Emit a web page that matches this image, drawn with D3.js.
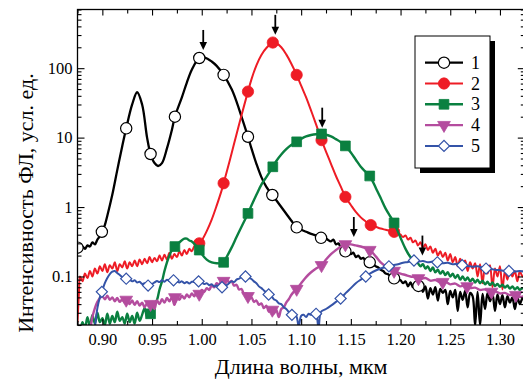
<!DOCTYPE html>
<html><head><meta charset="utf-8">
<script src="https://cdn.jsdelivr.net/npm/d3@7"></script>
<style>
body{margin:0;background:#fff}
svg{display:block}
</style>
</head><body>
<svg id="chart" width="523" height="382"></svg>
<script>
// Axis ticks
const xMajorTicks = [0.90, 0.95, 1.00, 1.05, 1.10, 1.15, 1.20, 1.25, 1.30];
const xMinorTicks = [0.875, 0.925, 0.975, 1.025, 1.075, 1.125, 1.175, 1.225, 1.275, 1.325];
const yMajorTicks = [0.1, 1, 10, 100];
const xTitle = "Длина волны, мкм";
const yTitle = "Интенсивность ФЛ, усл. ед.";
const seriesNames = ["1", "2", "3", "4", "5"];
const seriesColors = ["#000000", "#ee1c25", "#0a8040", "#b44c9e", "#3453a8"];
const FONT = "Liberation Serif";

// Spectrum 1: [wavelength, intensity]
const series1 = [
  [0.875,0.26],[0.8775,0.24],[0.880,0.27],[0.8825,0.25],[0.885,0.28],[0.8875,0.27],[0.890,0.31],
  [0.8925,0.29],[0.895,0.34],[0.8975,0.38],[0.8995,0.44],[0.9025,0.55],[0.905,0.75],[0.910,1.5],
  [0.915,3.4],[0.920,7.5],[0.924,13.6],[0.930,30],[0.935,45],[0.940,30],[0.945,10],[0.9485,5.8],
  [0.9525,4.3],[0.956,3.9],[0.960,4.3],[0.965,7],[0.970,13],[0.973,20],[0.980,38],[0.985,62],
  [0.990,95],[0.9975,140],[1.003,142],[1.010,125],[1.015,108],[1.022,80],[1.030,50],[1.035,33],
  [1.040,20],[1.0465,10.3],[1.050,7],[1.055,4.2],[1.060,2.7],[1.065,1.95],[1.071,1.49],[1.075,1.25],
  [1.080,1.0],[1.085,0.8],[1.090,0.64],[1.0955,0.51],[1.100,0.47],[1.105,0.44],[1.110,0.41],
  [1.115,0.39],[1.120,0.36],[1.125,0.35],[1.130,0.32],[1.1325,0.34],[1.135,0.29],[1.1375,0.30],
  [1.140,0.26],[1.1425,0.26],[1.1445,0.23],[1.1475,0.235],[1.150,0.21],[1.1525,0.22],[1.155,0.19],
  [1.1575,0.20],[1.160,0.18],[1.1625,0.185],[1.165,0.165],[1.169,0.16],[1.1725,0.15],[1.175,0.14],
  [1.1775,0.135],[1.180,0.125],[1.1825,0.12],[1.185,0.11],[1.1875,0.108],[1.190,0.10],
  [1.1935,0.094],[1.1975,0.09],[1.200,0.088],[1.2025,0.080],[1.205,0.085],[1.2075,0.072],
  [1.210,0.082],[1.2125,0.070],[1.215,0.078],[1.218,0.073],[1.220,0.074],[1.2225,0.060],
  [1.225,0.072],[1.2275,0.048],[1.230,0.068],[1.2325,0.055],[1.235,0.070],[1.2375,0.045],
  [1.240,0.066],[1.2425,0.058],[1.245,0.064],[1.2475,0.040],[1.250,0.062],[1.2525,0.050],
  [1.255,0.064],[1.2575,0.032],[1.260,0.060],[1.2625,0.046],[1.265,0.062],[1.2675,0.036],
  [1.270,0.058],[1.2725,0.052],[1.275,0.020],[1.2775,0.060],[1.280,0.020],[1.2825,0.056],
  [1.285,0.034],[1.2875,0.058],[1.290,0.044],[1.2925,0.056],[1.295,0.032],[1.2975,0.055],
  [1.300,0.040],[1.3025,0.054],[1.305,0.036],[1.3075,0.052],[1.310,0.042],[1.3125,0.050],
  [1.315,0.034],[1.3175,0.050],[1.320,0.040],[1.3225,0.048],[1.325,0.044]
];
const markers1 = [
  [0.875,0.26],[0.8995,0.44],[0.924,13.6],[0.9485,5.8],[0.973,20],[0.9975,140],[1.022,80],
  [1.0465,10.3],[1.071,1.49],[1.0955,0.51],[1.120,0.36],[1.1445,0.23],[1.169,0.16],
  [1.1935,0.094],[1.218,0.073]
];

// Spectrum 2
const series2 = [
  [0.875,0.022],[0.8765,0.06],[0.8775,0.10],[0.880,0.085],[0.8825,0.11],[0.885,0.095],[0.8875,0.12],
  [0.890,0.10],[0.8925,0.13],[0.895,0.11],[0.8975,0.14],[0.900,0.12],[0.9025,0.15],[0.905,0.115],
  [0.9075,0.145],[0.910,0.13],[0.9125,0.16],[0.915,0.12],[0.9175,0.15],[0.920,0.135],[0.9225,0.165],
  [0.925,0.13],[0.9275,0.16],[0.930,0.14],[0.9325,0.17],[0.935,0.14],[0.9375,0.175],[0.940,0.15],
  [0.9425,0.18],[0.945,0.155],[0.9475,0.19],[0.950,0.16],[0.9525,0.185],[0.955,0.165],[0.9575,0.20],
  [0.960,0.17],[0.9625,0.205],[0.965,0.175],[0.9675,0.22],[0.970,0.18],[0.9725,0.21],[0.975,0.19],
  [0.9775,0.23],[0.980,0.20],[0.9825,0.24],[0.985,0.21],[0.9875,0.25],[0.990,0.23],[0.9925,0.27],
  [0.995,0.26],[0.9975,0.30],[1.000,0.33],[1.005,0.45],[1.010,0.66],[1.015,1.05],[1.020,1.74],
  [1.022,2.2],[1.025,3.16],[1.030,5.9],[1.035,11.2],[1.040,21],[1.0465,46],[1.050,69],[1.055,110],
  [1.060,155],[1.065,195],[1.0715,234],[1.075,229],[1.080,200],[1.085,158],[1.090,117],[1.0955,80],
  [1.100,56],[1.105,38],[1.110,24.5],[1.115,15.5],[1.1205,9.2],[1.125,6.3],[1.130,4.2],[1.135,2.8],
  [1.140,1.95],[1.1445,1.4],[1.150,1.07],[1.155,0.85],[1.160,0.71],[1.165,0.62],[1.170,0.55],
  [1.175,0.52],[1.180,0.49],[1.185,0.47],[1.190,0.45],[1.1935,0.44],[1.1975,0.42],[1.200,0.40],
  [1.2025,0.37],[1.205,0.39],[1.2075,0.34],[1.210,0.36],[1.2125,0.31],[1.215,0.33],[1.2175,0.28],
  [1.220,0.31],[1.2225,0.26],[1.225,0.29],[1.2275,0.24],[1.230,0.27],[1.2325,0.22],[1.235,0.25],
  [1.2375,0.20],[1.240,0.23],[1.2425,0.19],[1.245,0.22],[1.2475,0.17],[1.250,0.21],[1.2525,0.16],
  [1.255,0.19],[1.2575,0.14],[1.260,0.18],[1.2625,0.15],[1.265,0.17],[1.2675,0.12],[1.270,0.16],
  [1.2725,0.13],[1.275,0.155],[1.2775,0.10],[1.280,0.15],[1.2825,0.08],[1.285,0.14],[1.2875,0.11],
  [1.290,0.145],[1.2925,0.07],[1.295,0.13],[1.2975,0.10],[1.300,0.14],[1.3025,0.065],[1.305,0.12],
  [1.3075,0.09],[1.310,0.13],[1.3125,0.10],[1.315,0.12],[1.3175,0.085],[1.320,0.12],[1.3225,0.10],
  [1.325,0.115]
];
const markers2 = [
  [0.9975,0.30],[1.022,2.2],[1.0465,46],[1.0715,234],[1.0955,80],[1.1205,9.2],[1.1445,1.4],
  [1.170,0.55],[1.1935,0.44]
];

// Spectrum 3
const series3 = [
  [0.8775,0.015],[0.880,0.022],[0.8825,0.018],[0.885,0.026],[0.8875,0.019],[0.890,0.028],
  [0.8925,0.021],[0.895,0.030],[0.8975,0.022],[0.900,0.025],[0.9025,0.020],[0.905,0.029],
  [0.9075,0.021],[0.910,0.027],[0.9125,0.022],[0.915,0.031],[0.9175,0.023],[0.920,0.026],
  [0.9225,0.021],[0.925,0.029],[0.9275,0.022],[0.930,0.027],[0.9325,0.021],[0.935,0.030],
  [0.9375,0.023],[0.940,0.028],[0.9425,0.035],[0.945,0.026],[0.9475,0.033],[0.9485,0.029],
  [0.950,0.034],[0.9525,0.040],[0.955,0.046],[0.9575,0.065],[0.960,0.085],[0.9625,0.12],
  [0.965,0.16],[0.9675,0.20],[0.970,0.24],[0.973,0.27],[0.9775,0.31],[0.9825,0.35],[0.985,0.35],
  [0.9875,0.33],[0.990,0.32],[0.995,0.27],[0.9975,0.24],[1.000,0.21],[1.005,0.175],[1.010,0.16],
  [1.015,0.155],[1.020,0.155],[1.022,0.16],[1.025,0.19],[1.030,0.26],[1.035,0.37],[1.040,0.52],
  [1.0465,0.81],[1.050,1.05],[1.055,1.5],[1.060,2.1],[1.065,2.7],[1.0715,3.8],[1.075,4.6],
  [1.080,5.7],[1.085,6.8],[1.090,7.8],[1.0955,8.7],[1.100,9.6],[1.105,10.4],[1.110,10.9],
  [1.115,11.2],[1.1205,11.3],[1.125,11.0],[1.130,10.4],[1.135,9.5],[1.140,8.6],[1.1445,7.6],
  [1.150,6.1],[1.155,4.8],[1.160,3.8],[1.165,3.2],[1.169,2.8],[1.175,1.9],[1.180,1.35],
  [1.185,0.95],[1.190,0.72],[1.1935,0.59],[1.200,0.36],[1.205,0.25],[1.210,0.19],[1.215,0.165],
  [1.2175,0.155],[1.220,0.14],[1.2225,0.15],[1.225,0.13],[1.2275,0.14],[1.230,0.12],[1.2325,0.135],
  [1.235,0.115],[1.2375,0.125],[1.240,0.11],[1.2425,0.12],[1.245,0.105],[1.2475,0.115],[1.250,0.10],
  [1.2525,0.11],[1.255,0.095],[1.2575,0.105],[1.260,0.09],[1.2625,0.10],[1.265,0.088],[1.2675,0.097],
  [1.270,0.085],[1.2725,0.093],[1.275,0.082],[1.2775,0.09],[1.280,0.08],[1.2825,0.087],[1.285,0.077],
  [1.2875,0.084],[1.290,0.075],[1.2925,0.082],[1.295,0.073],[1.2975,0.078],[1.300,0.071],
  [1.3025,0.076],[1.305,0.069],[1.3075,0.074],[1.310,0.067],[1.3125,0.072],[1.315,0.065],
  [1.3175,0.07],[1.320,0.064],[1.3225,0.068],[1.325,0.063]
];
const markers3 = [
  [0.9485,0.029],[0.973,0.27],[0.9975,0.24],[1.022,0.16],[1.0465,0.81],[1.0715,3.8],[1.0955,8.7],
  [1.1205,11.3],[1.1445,7.6],[1.169,2.8],[1.1935,0.59]
];

// Spectrum 4
const series4 = [
  [0.888,0.018],[0.890,0.026],[0.8925,0.035],[0.895,0.043],[0.8975,0.049],[0.900,0.052],
  [0.9025,0.047],[0.905,0.053],[0.9075,0.046],[0.910,0.050],[0.9125,0.044],[0.915,0.049],
  [0.9175,0.043],[0.920,0.047],[0.9225,0.042],[0.925,0.046],[0.9275,0.040],[0.930,0.045],
  [0.9325,0.039],[0.935,0.044],[0.9375,0.038],[0.940,0.042],[0.9425,0.036],[0.945,0.041],
  [0.9475,0.038],[0.950,0.043],[0.9525,0.034],[0.955,0.045],[0.9575,0.040],[0.960,0.047],
  [0.9625,0.042],[0.965,0.049],[0.9675,0.044],[0.970,0.050],[0.9725,0.039],[0.975,0.051],
  [0.9775,0.046],[0.980,0.053],[0.9825,0.048],[0.985,0.055],[0.9875,0.050],[0.990,0.057],
  [0.9925,0.052],[0.995,0.060],[0.9975,0.056],[1.000,0.064],[1.0025,0.060],[1.005,0.068],
  [1.0075,0.064],[1.010,0.074],[1.0125,0.070],[1.015,0.080],[1.0175,0.076],[1.020,0.088],
  [1.0225,0.084],[1.025,0.092],[1.0275,0.082],[1.030,0.086],[1.0325,0.074],[1.035,0.076],
  [1.0375,0.065],[1.040,0.066],[1.0425,0.056],[1.045,0.057],[1.0475,0.048],[1.050,0.050],
  [1.0525,0.043],[1.055,0.045],[1.0575,0.039],[1.060,0.041],[1.0625,0.035],[1.065,0.038],
  [1.0675,0.031],[1.070,0.035],[1.0725,0.029],[1.075,0.033],[1.0775,0.026],[1.080,0.034],
  [1.0825,0.036],[1.085,0.042],[1.0875,0.047],[1.090,0.054],[1.0925,0.060],[1.0955,0.066],
  [1.100,0.080],[1.105,0.098],[1.110,0.115],[1.115,0.13],[1.1205,0.145],[1.125,0.175],[1.130,0.21],
  [1.135,0.24],[1.140,0.27],[1.1445,0.29],[1.150,0.29],[1.155,0.28],[1.160,0.27],[1.165,0.255],
  [1.169,0.24],[1.175,0.195],[1.180,0.16],[1.185,0.14],[1.190,0.125],[1.1935,0.12],[1.200,0.11],
  [1.205,0.105],[1.210,0.10],[1.215,0.098],[1.220,0.092],[1.225,0.095],[1.230,0.087],[1.235,0.089],
  [1.240,0.082],[1.245,0.084],[1.250,0.077],[1.255,0.079],[1.260,0.072],[1.265,0.074],[1.270,0.068],
  [1.275,0.069],[1.280,0.064],[1.285,0.065],[1.290,0.060],[1.295,0.061],[1.300,0.057],[1.305,0.058],
  [1.310,0.054],[1.315,0.055],[1.320,0.051],[1.325,0.052]
];
const markers4 = [
  [0.924,0.046],[0.9485,0.040],[0.973,0.050],[0.9975,0.056],[1.022,0.086],[1.0465,0.052],
  [1.071,0.033],[1.0955,0.066],[1.1205,0.145],[1.1445,0.29],[1.169,0.24],[1.1935,0.12],
  [1.218,0.094],[1.2425,0.083],[1.267,0.072],[1.2915,0.060],[1.316,0.054]
];

// Spectrum 5
const series5 = [
  [0.8925,0.018],[0.895,0.035],[0.8975,0.05],[0.8995,0.06],[0.9025,0.08],[0.905,0.095],[0.9075,0.108],
  [0.910,0.117],[0.9125,0.12],[0.915,0.112],[0.9175,0.105],[0.920,0.098],[0.924,0.093],[0.9275,0.09],
  [0.930,0.085],[0.9325,0.088],[0.935,0.082],[0.9375,0.084],[0.940,0.078],[0.9425,0.08],[0.946,0.074],
  [0.950,0.078],[0.9525,0.082],[0.955,0.086],[0.9575,0.083],[0.960,0.088],[0.9625,0.084],[0.965,0.09],
  [0.9675,0.086],[0.9716,0.088],[0.975,0.085],[0.9775,0.082],[0.980,0.085],[0.9825,0.08],[0.985,0.083],
  [0.9875,0.079],[0.990,0.084],[0.9925,0.083],[0.9968,0.085],[1.000,0.082],[1.0025,0.078],[1.005,0.08],
  [1.0075,0.075],[1.010,0.077],[1.0125,0.072],[1.015,0.074],[1.0175,0.07],[1.0204,0.07],[1.025,0.075],
  [1.0275,0.08],[1.030,0.085],[1.0325,0.083],[1.035,0.09],[1.0375,0.093],[1.040,0.098],[1.044,0.10],
  [1.0475,0.095],[1.050,0.092],[1.0525,0.085],[1.055,0.08],[1.0575,0.072],[1.060,0.068],[1.0625,0.063],
  [1.0673,0.055],[1.070,0.052],[1.0725,0.047],[1.075,0.045],[1.0775,0.041],[1.080,0.04],[1.0825,0.036],
  [1.085,0.034],[1.0875,0.031],[1.0907,0.028],[1.095,0.027],[1.0975,0.019],[1.100,0.027],[1.1025,0.028],
  [1.105,0.026],[1.1075,0.029],[1.110,0.028],[1.1125,0.03],[1.115,0.029],[1.1175,0.018],[1.120,0.031],
  [1.125,0.034],[1.130,0.038],[1.135,0.043],[1.1397,0.048],[1.145,0.058],[1.150,0.068],[1.155,0.08],
  [1.160,0.09],[1.165,0.10],[1.170,0.112],[1.175,0.122],[1.180,0.13],[1.185,0.136],[1.1883,0.14],
  [1.1925,0.145],[1.1975,0.15],[1.2025,0.158],[1.2075,0.162],[1.2135,0.17],[1.2175,0.163],
  [1.2225,0.167],[1.2275,0.16],[1.2325,0.164],[1.237,0.16],[1.2425,0.155],[1.2475,0.158],
  [1.2525,0.15],[1.2575,0.153],[1.262,0.145],[1.2675,0.142],[1.2725,0.138],[1.2775,0.14],
  [1.2825,0.134],[1.286,0.13],[1.290,0.128],[1.295,0.125],[1.300,0.123],[1.305,0.121],[1.309,0.12],
  [1.315,0.118],[1.320,0.12],[1.325,0.117]
];
const markers5 = [
  [0.8995,0.06],[0.924,0.093],[0.946,0.074],[0.9716,0.088],[0.9968,0.085],[1.0204,0.07],[1.044,0.10],
  [1.0673,0.055],[1.0907,0.028],[1.115,0.029],[1.1397,0.048],[1.165,0.10],[1.1883,0.14],[1.2135,0.17],
  [1.237,0.16],[1.262,0.145],[1.286,0.13],[1.309,0.12]
];

// Peak arrows: [wavelength, intensity at the arrow tip]
const peakArrows = [[1.0015,183],[1.074,302],[1.1212,13.9],[1.153,0.37],[1.222,0.2]];

const seriesLines = [series1, series2, series3, series4, series5];
const seriesMarkers = [markers1, markers2, markers3, markers4, markers5];
const markerShapes = ["circle", "circle", "square", "triangleDown", "diamond"];
const markerFills = ["#ffffff", null, null, null, "#ffffff"];
const lineWidths = [2.3, 2, 2.4, 2.4, 2];

const plot = {left: 77.5, right: 524.8, top: 9.5, bottom: 325};

const svg = d3.select("#chart");
const x = d3.scaleLinear().domain([0.875, 1.325]).range([plot.left, plot.right]);
const y = d3.scaleLog().domain([0.02, 700]).range([plot.bottom, plot.top]);

const yMinorTicks = [];
[0.01, 0.1, 1, 10, 100].forEach(d => { for (let k = 2; k <= 9; k++) { const v = d * k; if (v >= 0.02 && v <= 700) yMinorTicks.push(v); } });

svg.append("defs").append("clipPath").attr("id", "plotClip")
  .append("rect").attr("x", plot.left).attr("y", plot.top)
  .attr("width", plot.right - plot.left).attr("height", plot.bottom - plot.top);

// Spectra
const line = d3.line().x(d => x(d[0])).y(d => y(d[1])).curve(d3.curveCatmullRom.alpha(0.5));
const dataLayer = svg.append("g").attr("clip-path", "url(#plotClip)");

function markerPath(shape, size) {
  if (shape === "circle") return d3.symbol(d3.symbolCircle, size)();
  if (shape === "triangleDown") return d3.symbol(d3.symbolTriangle, size)();
  return d3.symbol(d3.symbolSquare, size)();
}
function markerTransform(shape, px, py) {
  if (shape === "triangleDown") return `translate(${px},${py}) rotate(180)`;
  if (shape === "diamond") return `translate(${px},${py}) rotate(45)`;
  return `translate(${px},${py})`;
}
const markerSizes = {circle: 100, square: 95, triangleDown: 70, diamond: 62};

seriesLines.forEach((s, i) => {
  dataLayer.append("path").datum(s)
    .attr("fill", "none").attr("stroke", seriesColors[i])
    .attr("stroke-width", lineWidths[i]).attr("stroke-linejoin", "round")
    .attr("d", line);
  const shape = markerShapes[i];
  dataLayer.append("g").selectAll("path").data(seriesMarkers[i]).join("path")
    .attr("d", markerPath(shape, markerSizes[shape]))
    .attr("transform", d => markerTransform(shape, x(d[0]), y(d[1])))
    .attr("fill", markerFills[i] || seriesColors[i])
    .attr("stroke", seriesColors[i])
    .attr("stroke-width", markerFills[i] ? 1.2 : 0.8);
});

// Peak arrows
const arrows = svg.append("g");
peakArrows.forEach(a => {
  const px = x(a[0]), tip = y(a[1]);
  arrows.append("line").attr("x1", px).attr("x2", px).attr("y1", tip - 20).attr("y2", tip - 6)
    .attr("stroke", "#000").attr("stroke-width", 1.8);
  arrows.append("path").attr("d", `M${px - 3.8},${tip - 8} L${px + 3.8},${tip - 8} L${px},${tip} Z`).attr("fill", "#000");
});

// Axes
function styleAxis(g) {
  g.select(".domain").remove();
  g.selectAll(".tick line").attr("stroke", "#000").attr("stroke-width", 1.1);
  g.selectAll(".tick text").attr("fill", "#000")
    .style("font-family", FONT).style("font-size", "16.5px");
}
const fmtX = d3.format(".2f");
svg.append("g").attr("transform", `translate(0,${plot.bottom})`)
  .call(d3.axisBottom(x).tickValues(xMajorTicks).tickSize(-6).tickPadding(8).tickFormat(fmtX)).call(styleAxis);
svg.append("g").attr("transform", `translate(0,${plot.bottom})`)
  .call(d3.axisBottom(x).tickValues(xMinorTicks).tickSize(-4).tickFormat("")).call(styleAxis);
svg.append("g").attr("transform", `translate(0,${plot.top})`)
  .call(d3.axisTop(x).tickValues(xMajorTicks).tickSize(-6).tickFormat("")).call(styleAxis);
svg.append("g").attr("transform", `translate(0,${plot.top})`)
  .call(d3.axisTop(x).tickValues(xMinorTicks).tickSize(-4).tickFormat("")).call(styleAxis);
svg.append("g").attr("transform", `translate(${plot.left},0)`)
  .call(d3.axisLeft(y).tickValues(yMajorTicks).tickSize(-7).tickPadding(5).tickFormat(d => String(d))).call(styleAxis);
svg.append("g").attr("transform", `translate(${plot.left},0)`)
  .call(d3.axisLeft(y).tickValues(yMinorTicks).tickSize(-4).tickFormat("")).call(styleAxis);
svg.append("g").attr("transform", `translate(${plot.right},0)`)
  .call(d3.axisRight(y).tickValues(yMajorTicks).tickSize(-7).tickFormat("")).call(styleAxis);
svg.append("g").attr("transform", `translate(${plot.right},0)`)
  .call(d3.axisRight(y).tickValues(yMinorTicks).tickSize(-4).tickFormat("")).call(styleAxis);

svg.append("rect").attr("x", plot.left).attr("y", plot.top)
  .attr("width", plot.right - plot.left).attr("height", plot.bottom - plot.top)
  .attr("fill", "none").attr("stroke", "#000").attr("stroke-width", 1.3);

// Axis titles
svg.append("text").attr("x", (plot.left + plot.right) / 2).attr("y", 374)
  .attr("text-anchor", "middle").attr("fill", "#000")
  .style("font-family", FONT).style("font-size", "22px").text(xTitle);
svg.append("text").attr("transform", "translate(33,203) rotate(-90)")
  .attr("text-anchor", "middle").attr("fill", "#000")
  .style("font-family", FONT).style("font-size", "22px").text(yTitle);

// Legend
const legend = svg.append("g");
const lg = {x: 415, y: 36, w: 75, h: 132};
legend.append("rect").attr("x", lg.x + 5).attr("y", lg.y + 5).attr("width", lg.w).attr("height", lg.h).attr("fill", "#000");
legend.append("rect").attr("x", lg.x).attr("y", lg.y).attr("width", lg.w).attr("height", lg.h)
  .attr("fill", "#fff").attr("stroke", "#000").attr("stroke-width", 1);
seriesNames.forEach((name, i) => {
  const ry = 62.7 + i * 20.8;
  legend.append("line").attr("x1", 425).attr("x2", 463).attr("y1", ry).attr("y2", ry)
    .attr("stroke", seriesColors[i]).attr("stroke-width", lineWidths[i]);
  const shape = markerShapes[i];
  legend.append("path").attr("d", markerPath(shape, markerSizes[shape]))
    .attr("transform", markerTransform(shape, 444, ry))
    .attr("fill", markerFills[i] || seriesColors[i]).attr("stroke", seriesColors[i])
    .attr("stroke-width", markerFills[i] ? 1.2 : 0.8);
  legend.append("text").attr("x", 471).attr("y", ry + 6).attr("fill", "#000")
    .style("font-family", FONT).style("font-size", "18px").text(name);
});
</script>
</body></html>
